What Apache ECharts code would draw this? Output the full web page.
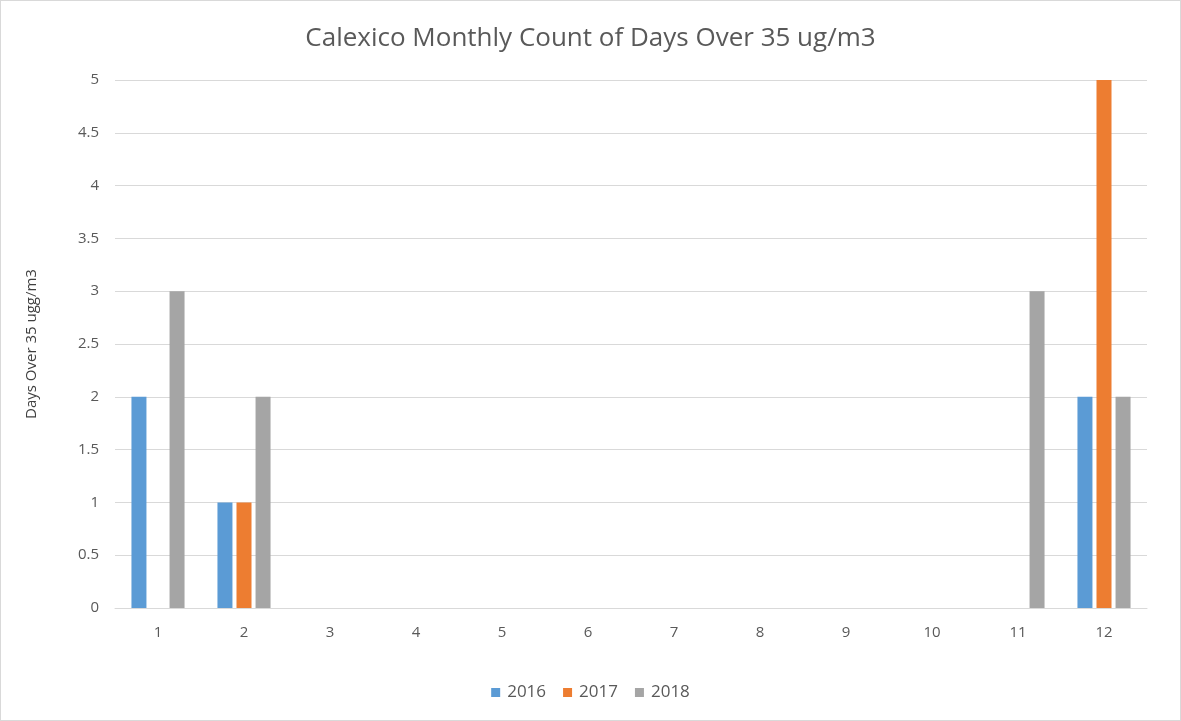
<!DOCTYPE html>
<html>
<head>
<meta charset="utf-8">
<script src="https://cdn.jsdelivr.net/npm/echarts@6/dist/echarts.min.js"></script>
<style>
html,body{margin:0;padding:0;background:#fff;}
#c{width:1179px;height:719px;border:1px solid #d9d9d9;}
</style>
</head>
<body>
<div id="c"></div>
<script>
const categories = ['1','2','3','4','5','6','7','8','9','10','11','12'];
const s2016 = [2,1,0,0,0,0,0,0,0,0,0,2];
const s2017 = [0,1,0,0,0,0,0,0,0,0,0,5];
const s2018 = [3,2,0,0,0,0,0,0,0,0,3,2];
const seriesNames = ['2016','2017','2018'];
const colors = ['#5b9bd5','#ed7d31','#a5a5a5'];
const font = '"Open Sans", "Liberation Sans", sans-serif';

const chart = echarts.init(document.getElementById('c'));
chart.setOption({
  animation:false,
  color: colors,
  title:{text:'Calexico Monthly Count of Days Over 35 ug/m3', left:'center', top:20,
    textStyle:{fontFamily:font, fontSize:26, fontWeight:'normal', color:'#595959'}},
  legend:{bottom:14, left:'center', itemWidth:9, itemHeight:9, itemGap:17, icon:'rect',
    textStyle:{fontFamily:font, fontSize:17, color:'#595959', padding:[0,0,0,2]}, data:seriesNames},
  grid:{left:114, right:33, top:79, bottom:112},
  xAxis:{type:'category', data:categories,
    axisLine:{lineStyle:{color:'#d9d9d9'}}, axisTick:{show:false},
    axisLabel:{fontFamily:font, fontSize:15, color:'#595959', margin:17}},
  yAxis:{type:'value', min:0, max:5, interval:0.5,
    name:'Days Over 35 ugg/m3', nameLocation:'middle', nameGap:76, nameRotate:90,
    nameTextStyle:{fontFamily:font, fontSize:15, color:'#404040'},
    axisLine:{show:false}, axisTick:{show:false},
    axisLabel:{fontFamily:font, fontSize:15, color:'#595959', margin:16},
    splitLine:{lineStyle:{color:'#d9d9d9', width:1}}},
  series:[
    {name:'2016', type:'bar', data:s2016, barWidth:15, barGap:'27%'},
    {name:'2017', type:'bar', data:s2017, barWidth:15, barGap:'27%'},
    {name:'2018', type:'bar', data:s2018, barWidth:15, barGap:'27%'}
  ]
});
</script>
</body>
</html>
